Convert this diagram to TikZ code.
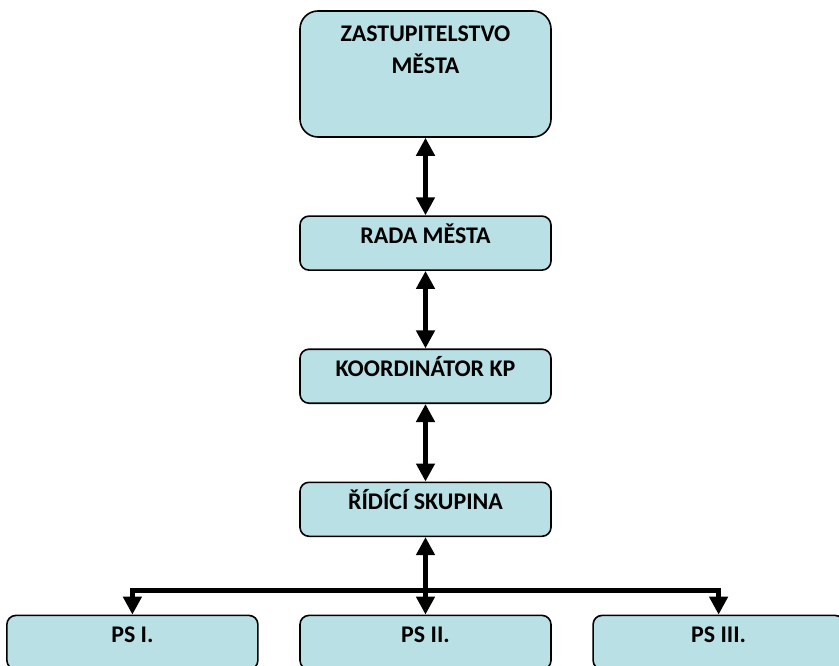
\documentclass[tikz,border=0pt]{standalone}
\usepackage{fontspec}
\setmainfont{Carlito}
\usetikzlibrary{positioning, arrows.meta}
\definecolor{boxfill}{RGB}{185,224,228}
\tikzset{
node distance=77.5bp, % gap between the boxes of one column
box/.style={draw, line width=1.6bp, fill=boxfill, rounded corners=9bp, minimum width=251bp, minimum height=54bp, inner sep=0pt, font=\fontsize{24}{29}\selectfont\bfseries, text height=16bp, text depth=16bp}, % every box of the chart
link/.style={line width=4.8bp, {Triangle[width=18bp,length=18bp]}-{Triangle[width=18bp,length=18bp]}}, % two-way arrow
branch/.style={line width=4.8bp, -{Triangle[width=18bp,length=18bp]}}, % arrow down to a working group
}

\begin{document}
\begin{tikzpicture}[x=1bp,y=1bp]
        \useasboundingbox (0,0) rectangle (839,-666);
        \node[box, minimum height=126bp, rounded corners=18bp, align=center, text height=50bp, text depth=50bp] (ZM) at (425.5,-74) {ZASTUPITELSTVO\\[4bp]MĚSTA};
        \node[box, below=of ZM] (RM) {RADA MĚSTA};
        \node[box, below=of RM] (KKP) {KOORDINÁTOR KP};
        \node[box, below=of KKP] (RS) {ŘÍDÍCÍ SKUPINA};
        \node[box, below=of RS] (PS2) {PS II.};
        \node[box, left=40.5bp of PS2] (PS1) {PS I.};
        \node[box, right=40.5bp of PS2] (PS3) {PS III.};
        \coordinate[above=24bp of PS2.north] (split);


        \draw[link] (ZM) edge (RM)
              (RM) edge (KKP)
              (KKP) edge (RS)
              (RS) edge (PS2);
        \draw[branch] (split) -| (PS1);
        \draw[branch] (split) -| (PS3);



  \end{tikzpicture}
\end{document}
